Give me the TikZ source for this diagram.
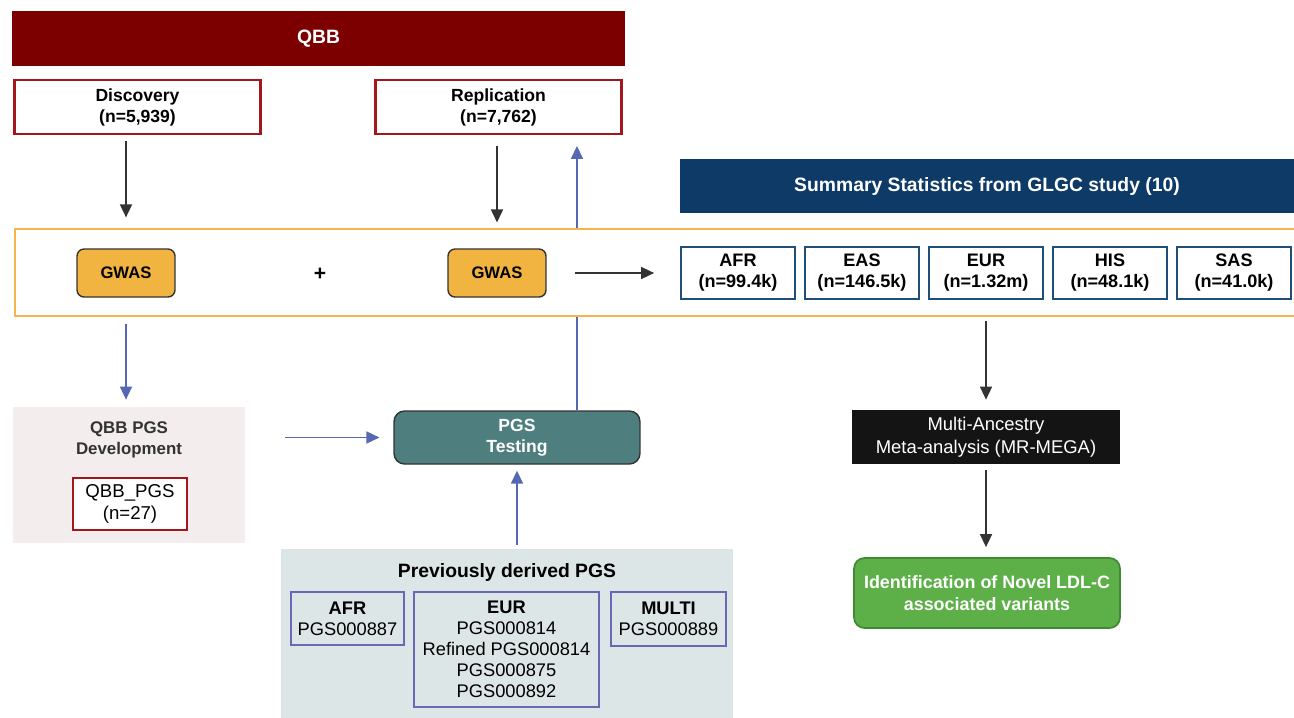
\documentclass[tikz,border=0pt]{standalone}
\usepackage{fontspec}
\setmainfont{Liberation Sans}
\usetikzlibrary{arrows.meta,backgrounds}
% Couleurs
\definecolor{qbbred}{HTML}{7D0000}
\definecolor{boxred}{HTML}{A3161B}
\definecolor{bandorange}{HTML}{F6B54A}
\definecolor{gwasfill}{HTML}{F2B441}
\definecolor{navy}{HTML}{0D3A66}
\definecolor{ancnavy}{HTML}{1F4E79}
\definecolor{flowblue}{HTML}{5668B2}
\definecolor{devfill}{HTML}{F3EDED}
\definecolor{teal}{HTML}{4F7E7E}
\definecolor{prevfill}{HTML}{DDE6E6}
\definecolor{purpleline}{HTML}{6B67B5}
\definecolor{novelgreen}{HTML}{5DAF48}
\definecolor{greenline}{HTML}{3F8A33}
\definecolor{darkline}{HTML}{333333}
\tikzset{
	lbl/.style		= {font=\fontsize{10}{12}\selectfont\bfseries, align=center, inner sep=0pt},
	banner/.style	= {lbl, text=white, font=\fontsize{11}{13}\selectfont\bfseries, minimum height=1.1cm},
	redbox/.style	= {lbl, draw=boxred, line width=1.2pt, fill=white, minimum width=4.92cm, minimum height=1.08cm},
	gwasbox/.style	= {lbl, draw=darkline, line width=0.8pt, fill=gwasfill, rounded corners=4pt, minimum width=1.96cm, minimum height=0.96cm, font=\fontsize{9.5}{11}\selectfont\bfseries},
	ancbox/.style	= {lbl, draw=ancnavy, line width=1.2pt, fill=white, minimum width=2.28cm, minimum height=1.04cm, font=\fontsize{10.3}{12}\selectfont\bfseries},
	pgsbox/.style	= {align=center, inner sep=0pt, draw=purpleline, line width=1.2pt, font=\fontsize{10.4}{12}\selectfont},
	flech/.style	= {draw=darkline, line width=0.9pt, -{Triangle[length=2.6mm,width=2.4mm]}},
	flechbleu/.style= {draw=flowblue, line width=0.9pt, -{Triangle[length=2.6mm,width=2.4mm]}},
}
\begin{document}
\begin{tikzpicture}[x=0.02cm, y=-0.02cm]
	% Cadre
	\useasboundingbox	(0,0)	rectangle	(1294,717);
	\clip				(0,0)	rectangle	(1294,717);
	% QBB
	\node [banner, fill=qbbred, minimum width=12.26cm]	(qbb)	at (318.5,38.5)	{QBB};
	\node [redbox]		(disc)	at (137.5,107)	{Discovery\\(n=5,939)};
	\node [redbox]		(repl)	at (498.5,107)	{Replication\\(n=7,762)};
	% Bande GWAS
	\node [draw=bandorange, line width=1.3pt, fill=white, minimum width=25.7cm, minimum height=1.74cm]	(band)	at (657.5,272.5)	{};
	\node [gwasbox]		(gwas1)	at (126,273)	{GWAS};
	\node [gwasbox]		(gwas2)	at (497,273)	{GWAS};
	\node [lbl, font=\fontsize{12}{12}\selectfont\bfseries]	(plus)	at (320,274)	{+};
	% Statistiques GLGC
	\node [banner, fill=navy, minimum width=12.28cm, minimum height=1.08cm]	(glgc)	at (987,186)	{Summary Statistics from GLGC study (10)};
	\foreach \nom/\n [count=\i] in {AFR/99.4k, EAS/146.5k, EUR/1.32m, HIS/48.1k, SAS/41.0k}
		\node [ancbox]	(anc\i)	at ({738+124*(\i-1)},273)	{\nom\\(n=\n)};
	% Meta-analyse
	\node [lbl, fill=black!92, text=white, font=\fontsize{10.5}{13}\selectfont, minimum width=5.36cm, minimum height=1.08cm]	(mega)	at (986,437)	{Multi-Ancestry\\Meta-analysis (MR-MEGA)};
	\node [lbl, draw=greenline, line width=1pt, fill=novelgreen, text=white, rounded corners=6pt, font=\fontsize{10.2}{12.5}\selectfont\bfseries, minimum width=5.32cm, minimum height=1.4cm]	(novel)	at (987,593)	{Identification of Novel LDL-C\\associated variants};
	% PGS QBB
	\node [fill=devfill, minimum width=4.64cm, minimum height=2.72cm]	(dev)	at (129,475)	{};
	\node [lbl, text=black!80, font=\fontsize{9.6}{12}\selectfont\bfseries]	(devtitle)	at (129,440)	{QBB PGS\\Development};
	\node [redbox, font=\fontsize{10.6}{12.5}\selectfont, minimum width=2.28cm, minimum height=1.04cm]	(qbbpgs)	at (130,504)	{QBB\_PGS\\(n=27)};
	\node [lbl, draw=darkline, line width=0.8pt, fill=teal, text=white, rounded corners=6pt, minimum width=4.92cm, minimum height=1.06cm]	(testing)	at (517,437.5)	{PGS\\Testing};
	% PGS anterieurs
	\node [fill=prevfill, minimum width=9.04cm, minimum height=3.6cm]	(prev)	at (507,639)	{};
	\node [lbl, font=\fontsize{11}{13}\selectfont\bfseries]	(prevtitle)	at (507,572)	{Previously derived PGS};
	\node [pgsbox, minimum width=2.26cm, minimum height=1.06cm]	(afrpgs)	at (347.5,618.5)	{\textbf{AFR}\\PGS000887};
	\node [pgsbox, minimum width=3.7cm, minimum height=2.3cm]	(eurpgs)	at (506.5,649.5)	{\textbf{EUR}\\PGS000814\\Refined PGS000814\\PGS000875\\PGS000892};
	\node [pgsbox, minimum width=2.3cm, minimum height=1.08cm]	(multipgs)	at (668.5,619)	{\textbf{MULTI}\\PGS000889};
	% Fleches
	\draw [flech, shorten <=3.4pt, shorten >=17.6pt]	(disc.south -| gwas1.north)	-- (gwas1.north);
	\draw [flech, shorten <=6.2pt, shorten >=14.7pt]	(repl.south -| gwas2.north)	-- (gwas2.north);
	\draw [flech, shorten <=15.9pt, shorten >=14.7pt]	(gwas2.east)	-- (anc1.west);
	\draw [flech, shorten <=11.9pt, shorten >=5.7pt]	(anc3.south)	-- (mega.north);
	\draw [flech, shorten <=3.4pt, shorten >=5.7pt]		(mega.south)	-- (mega.south |- novel.north);
	\draw [flechbleu, shorten <=14.7pt, shorten >=4pt]	(gwas1.south)	-- (dev.north -| gwas1.south);
	\draw [flechbleu, shorten <=22.7pt, shorten >=7.9pt]	(testing.west -| dev.east)	-- (testing.west);
	\draw [flechbleu, shorten <=2.3pt, shorten >=3.4pt]	(prev.north -| testing.south)	-- (testing.south);
	\begin{pgfonlayer}{background}
		\draw [flechbleu, shorten >=6.2pt]	([xshift=1.2cm]testing.north)	-- ([xshift=1.2cm]testing.north |- repl.south);
	\end{pgfonlayer}
\end{tikzpicture}
\end{document}
